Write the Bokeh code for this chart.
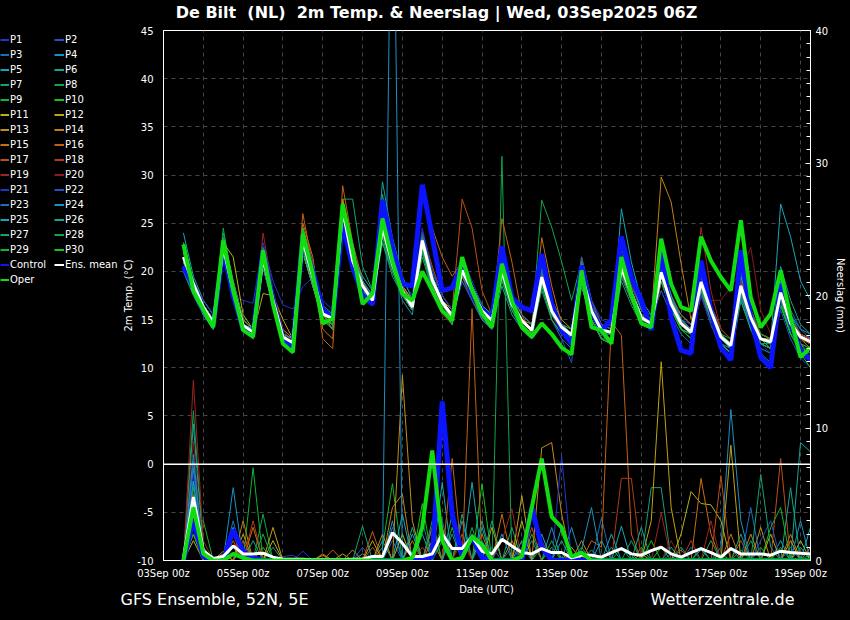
from bokeh.plotting import figure
from bokeh.layouts import column, row
from bokeh.models import (Range1d, LinearAxis, FixedTicker, SingleIntervalTicker,
                          Span, Label, Legend, LegendItem)
from bokeh.embed import file_html
from bokeh.resources import INLINE

# ---------------- data ----------------
# valid times: hours after 03Sep2025 00z (run 06Z, 6-hourly steps)
HOURS = [12 + 6 * i for i in range(64)]
DATE_TICK_DAYS = [0, 2, 4, 6, 8, 10, 12, 14, 16]
DATE_TICK_LABELS = ["03Sep 00z", "05Sep 00z", "07Sep 00z", "09Sep 00z", "11Sep 00z",
                    "13Sep 00z", "15Sep 00z", "17Sep 00z", "19Sep 00z"]
TEMP_TICKS = [-10, -5, 0, 5, 10, 15, 20, 25, 30, 35, 40, 45]

MEAN_T = [21.5, 18.7, 16.3, 14.7, 22.5, 18.0, 14.4, 13.7, 21.4, 17.0, 13.2, 12.6,
          23.2, 19.4, 15.6, 15.1, 26.4, 21.1, 18.5, 17.0, 24.6, 20.8, 18.0, 16.3,
          23.2, 19.1, 16.8, 15.4, 20.1, 18.0, 15.9, 14.9, 20.1, 16.6, 14.9, 13.9,
          19.4, 15.9, 14.2, 13.4, 19.7, 15.9, 13.9, 13.7, 20.4, 17.7, 15.2, 14.6,
          19.9, 16.6, 14.6, 13.7, 18.9, 15.9, 13.2, 12.3, 18.5, 15.2, 13.0, 12.7,
          17.8, 14.6, 13.2, 12.7]
CONTROL_T = [20.5, 18.5, 16.0, 14.5, 22.3, 17.5, 14.0, 13.5, 22.2, 17.0, 13.0, 12.3,
             23.5, 20.0, 16.0, 15.2, 25.0, 20.5, 17.5, 16.6, 27.4, 22.5, 18.7, 18.5,
             29.0, 23.6, 18.0, 18.3, 20.8, 17.7, 16.0, 15.2, 22.6, 17.3, 16.3, 15.9,
             21.8, 16.6, 13.9, 12.5, 20.6, 15.9, 13.9, 15.0, 23.6, 19.4, 17.0, 13.9,
             22.2, 15.2, 11.8, 11.5, 21.1, 15.9, 12.1, 10.8, 22.2, 15.2, 11.1, 10.0,
             18.7, 14.6, 11.8, 10.8]
OPER_T = [22.8, 18.0, 16.0, 14.2, 23.2, 18.0, 13.9, 13.2, 22.2, 16.6, 12.5, 11.6,
          23.9, 19.8, 14.6, 15.1, 27.0, 22.2, 16.6, 17.7, 25.5, 21.1, 17.7, 17.0,
          20.0, 18.0, 15.9, 14.9, 21.5, 18.0, 15.6, 14.2, 20.8, 17.0, 14.2, 13.2,
          14.6, 13.5, 12.1, 11.4, 20.1, 14.2, 13.9, 12.5, 21.5, 17.7, 14.6, 14.2,
          23.4, 18.7, 16.3, 15.9, 23.6, 21.1, 19.4, 18.0, 25.3, 17.3, 14.2, 15.6,
          20.1, 15.2, 11.1, 12.1]

MEAN_P = [0.15, 4.8, 0.75, 0.15, 0.3, 1.1, 0.5, 0.5, 0.55, 0.25, 0.1, 0.1, 0.1, 0.05,
          0.05, 0.05, 0.05, 0.1, 0.1, 0.3, 0.3, 2.1, 1.3, 0.3, 0.3, 0.5, 2.0, 0.9, 0.9,
          1.8, 0.7, 0.5, 1.6, 1.1, 0.6, 0.5, 0.9, 0.6, 0.6, 0.2, 0.4, 0.4, 0.25, 0.6,
          0.9, 0.5, 0.4, 0.75, 1.0, 0.5, 0.25, 0.6, 0.9, 0.6, 0.25, 0.9, 0.5, 0.5, 0.5,
          0.4, 0.7, 0.6, 0.55, 0.5]
CONTROL_P = [0, 3.0, 0.3, 0, 0, 2.3, 0.7, 0.2, 0, 0, 0, 0, 0, 0, 0, 0, 0, 0, 0, 0,
             0, 0, 0, 0, 0, 0.3, 12.0, 3.5, 0.4, 1.8, 0.2, 0, 0, 0, 0, 4.0, 1.0, 0, 0, 0,
             0, 0, 0, 0, 0, 0, 0, 0, 0, 0, 0, 0, 0, 0, 0, 0, 0, 0, 0, 0, 0, 0, 0, 0]
OPER_P = [0, 4.0, 0.5, 0, 0, 0.5, 0.2, 0, 0, 0, 0, 0, 0, 0, 0, 0, 0, 0, 0, 0,
          0, 0, 0, 0.2, 2.5, 8.3, 1.5, 0, 0.2, 1.8, 1.2, 0, 0, 0, 0.3, 4.0, 7.7, 3.3, 2.5, 0.3,
          0.6, 0, 0, 0, 0, 0, 0, 0, 0, 0, 0, 0, 0, 0, 0, 0, 0, 0, 0, 0, 0, 0, 0, 0]

T_P1 = [20.5,18.0,16.0,14.5, 22.0,17.5,17.0,16.7, 23.0,19.0,16.5,16.1, 18.4,19.4,17.0,16.0, 25.0,21.0,18.5,17.0, 25.5,21.5,19.0,17.5, 24.0,20.0,17.5,16.0, 21.0,18.5,16.0,15.0, 19.0,16.0,14.0,13.0, 18.5,15.5,14.0,13.5, 21.0,17.0,15.0,14.5, 22.0,18.5,16.0,15.0, 21.0,17.5,15.0,14.0, 20.0,16.0,13.0,12.0, 17.5,14.5,12.5,12.0, 16.5,14.0,12.5,11.5]
T_P2 = [21.0,18.5,16.5,15.0, 23.0,18.5,14.5,14.0, 21.5,17.0,13.0,12.5, 23.5,19.5,15.5,15.0, 27.0,21.5,18.0,16.5, 24.0,20.0,17.5,16.0, 22.0,18.5,16.5,15.5, 19.5,17.5,15.5,14.5, 21.0,17.0,15.0,14.0, 20.0,16.5,14.5,13.0, 18.5,15.0,13.0,12.5, 19.5,17.0,14.5,14.0, 21.0,17.5,15.0,14.5, 18.0,15.0,12.5,11.5, 19.5,16.0,13.5,13.0, 18.5,15.0,13.5,13.0]
T_P3 = [20.0,18.5,16.0,14.5, 22.5,18.0,14.0,13.5, 21.0,16.5,13.0,12.0, 22.5,19.0,15.0,14.5, 25.5,20.5,18.0,17.5, 25.5,21.0,18.5,17.0, 23.5,19.5,17.0,16.0, 20.5,18.5,16.5,15.5, 22.0,17.5,15.5,14.5, 18.5,15.0,13.0,12.0, 20.5,16.5,14.5,14.0, 21.5,18.5,16.0,15.5, 19.0,16.0,14.0,13.0, 18.0,15.5,13.0,12.5, 19.0,15.5,13.0,12.0, 16.5,13.5,12.0,11.0]
T_P4 = [21.5,19.0,16.5,15.0, 23.0,18.5,14.5,13.5, 21.5,17.0,13.5,12.5, 24.5,20.0,16.0,15.5, 26.5,21.0,19.0,17.5, 24.0,20.5,17.0,15.5, 23.0,19.0,16.5,15.0, 19.0,17.0,15.0,14.0, 20.0,16.5,14.5,13.5, 20.0,16.0,14.0,13.0, 19.0,15.5,14.0,14.5, 22.5,19.5,16.0,15.0, 20.5,17.0,15.5,14.5, 17.5,14.5,12.0,11.0, 17.0,14.0,12.5,12.0, 18.5,15.5,14.0,13.5]
T_P5 = [24.0,19.5,17.0,15.5, 22.0,17.5,14.0,13.5, 20.5,16.5,13.0,12.5, 22.0,18.5,15.0,14.0, 26.5,22.0,19.5,18.0, 23.0,20.0,17.5,16.0, 24.0,20.0,17.5,16.0, 21.0,18.0,15.5,14.5, 19.5,16.0,14.5,13.5, 20.5,16.5,14.0,13.0, 19.5,16.0,13.5,12.5, 20.0,17.0,15.0,14.5, 19.0,16.0,14.0,13.5, 19.5,16.0,13.5,12.5, 18.0,15.0,13.0,12.5, 19.0,15.5,13.5,13.0]
T_P6 = [22.5,19.0,16.5,15.0, 21.5,17.5,14.5,14.0, 22.0,17.5,13.5,13.0, 23.0,19.0,15.5,15.0, 27.5,21.5,18.0,16.5, 28.0,22.0,18.5,16.5, 22.5,18.5,16.0,15.0, 20.0,17.5,15.5,14.0, 18.5,15.5,14.0,13.5, 19.5,16.0,14.5,14.0, 20.5,16.5,14.5,13.5, 21.0,18.0,15.5,15.0, 19.5,16.5,14.5,13.5, 18.0,15.5,12.5,12.0, 17.5,14.5,12.5,12.5, 17.0,14.0,13.0,12.5]
T_P7 = [21.0,18.0,16.0,14.5, 24.0,19.0,15.0,14.0, 22.5,17.5,13.5,12.5, 24.5,20.5,16.0,15.0, 27.5,27.5,20.5,18.0, 26.0,21.5,18.5,17.0, 22.0,18.5,16.0,14.5, 20.5,18.0,16.0,15.0, 21.5,17.0,15.0,14.0, 18.0,15.0,13.5,13.0, 19.5,15.5,13.5,13.5, 19.5,17.0,14.5,14.0, 21.5,17.5,15.0,14.0, 18.5,15.5,13.0,12.0, 19.5,16.0,13.5,13.0, 17.5,14.5,13.0,12.5]
T_P8 = [22.0,18.5,16.0,14.0, 24.5,18.5,14.0,13.0, 21.0,16.5,13.0,12.0, 23.0,19.0,15.5,15.0, 26.0,21.0,18.5,17.0, 24.0,20.5,18.0,16.5, 23.5,19.5,17.0,15.5, 19.5,17.5,15.5,14.5, 20.5,17.5,15.0,14.0, 27.4,24.6,21.0,17.0, 21.0,16.5,14.0,13.5, 20.0,17.0,15.0,14.5, 20.5,17.0,15.0,14.0, 19.0,16.0,13.5,12.5, 18.0,15.0,13.0,12.5, 18.5,15.0,13.5,13.0]
T_P9 = [20.0,18.0,15.5,14.0, 22.0,17.5,14.0,13.5, 21.5,17.0,13.0,12.0, 22.5,19.0,15.5,15.0, 26.0,21.5,18.5,17.0, 23.5,20.0,17.5,16.0, 23.0,19.0,16.5,15.0, 20.0,18.0,16.0,15.0, 20.5,17.0,15.0,14.0, 19.0,16.0,14.5,13.5, 18.5,15.0,13.0,13.0, 20.0,17.5,15.5,14.5, 21.0,17.0,14.5,13.5, 19.5,16.5,14.0,13.0, 17.0,14.0,12.0,11.5, 17.5,14.5,13.0,12.5]
T_P10 = [21.5,18.5,16.5,15.0, 23.5,18.5,14.5,13.5, 22.0,17.0,13.0,12.5, 23.5,19.5,16.0,15.5, 27.0,21.0,18.0,16.5, 25.0,21.0,18.0,16.5, 21.5,18.0,16.0,14.5, 21.0,18.5,16.5,15.5, 19.5,16.5,14.5,13.5, 20.5,16.5,14.5,13.5, 21.0,16.5,14.5,14.0, 19.5,17.0,14.5,14.0, 19.0,16.0,14.0,13.0, 18.5,15.5,13.0,12.0, 19.0,15.5,13.0,12.5, 16.5,13.5,12.5,11.0]
T_P11 = [21.0,19.0,16.5,15.0, 23.0,21.5,15.5,14.0, 20.5,16.5,13.0,12.5, 22.0,18.5,15.0,14.5, 25.5,20.5,18.0,17.0, 24.5,21.0,18.5,17.0, 22.5,19.0,17.0,16.0, 20.0,18.5,16.5,15.5, 19.5,16.5,15.0,14.0, 19.0,16.0,14.0,13.5, 20.0,16.5,14.0,13.5, 20.5,17.5,15.0,14.5, 19.5,16.5,14.5,14.0, 18.0,15.0,13.0,12.0, 18.0,15.0,13.0,13.0, 17.5,15.0,13.5,13.0]
T_P12 = [21.5,18.5,16.0,14.5, 22.5,18.0,14.5,13.5, 17.7,17.5,15.0,13.0, 22.0,18.5,15.0,14.5, 25.0,20.5,18.0,16.5, 24.5,20.5,17.5,16.0, 23.0,19.0,16.5,15.0, 19.5,17.5,15.5,14.5, 20.0,16.5,14.5,13.5, 20.5,17.0,15.0,14.0, 20.0,16.0,14.0,13.5, 21.0,18.0,15.5,15.0, 20.5,17.0,15.0,14.0, 19.0,16.0,13.5,12.5, 17.5,14.5,12.5,12.0, 18.0,15.0,13.5,13.0]
T_P13 = [22.0,19.0,16.5,15.0, 22.5,18.5,15.0,14.0, 21.5,17.5,14.0,13.0, 23.0,19.5,16.0,15.5, 27.5,22.0,19.0,17.0, 24.0,20.5,18.5,17.0, 22.5,19.0,17.0,16.0, 20.0,18.5,16.0,15.0, 20.5,17.0,15.0,14.5, 19.5,16.0,14.0,13.5, 19.5,16.0,14.0,13.5, 20.0,17.5,15.0,14.5, 20.0,16.5,14.5,13.5, 18.5,16.0,13.5,12.5, 18.5,15.5,13.0,12.5, 17.0,14.5,13.0,12.5]
T_P14 = [22.5,19.0,16.5,15.0, 22.0,17.5,14.0,13.0, 21.0,16.5,13.0,12.5, 24.0,19.5,15.5,14.0, 26.0,20.5,18.0,16.5, 24.0,20.0,17.5,16.0, 23.5,19.5,17.0,15.5, 20.5,18.5,16.5,15.5, 20.0,16.5,14.5,13.5, 19.0,16.0,14.0,13.0, 20.0,16.0,14.0,13.5, 21.0,18.0,15.5,15.0, 29.8,27.2,20.8,15.0, 18.5,15.5,13.0,12.0, 18.5,15.5,13.0,12.5, 17.5,14.5,13.0,12.0]
T_P15 = [22.0,18.5,16.0,14.5, 22.5,18.5,14.5,13.5, 22.0,17.5,13.5,12.5, 25.0,21.5,14.0,13.0, 27.0,21.5,18.5,17.0, 24.5,20.5,17.5,16.0, 23.0,19.5,17.0,15.5, 20.0,18.0,16.0,15.0, 19.5,16.5,15.0,14.0, 23.5,18.5,14.5,13.5, 20.5,16.0,13.5,13.0, 20.5,17.5,15.5,14.5, 20.0,16.5,14.5,13.5, 19.5,16.0,13.5,12.5, 18.0,15.0,13.0,12.5, 18.0,15.0,13.5,13.0]
T_P16 = [23.0,19.0,16.5,15.0, 23.5,19.0,15.0,14.0, 22.0,17.5,13.5,13.0, 26.0,20.5,13.0,12.0, 28.9,23.0,19.0,17.0, 25.0,21.0,18.0,16.5, 28.0,24.5,21.5,19.5, 21.0,18.5,16.0,15.0, 25.5,21.0,15.5,13.5, 19.5,16.0,14.0,13.0, 20.0,16.0,13.5,13.0, 19.5,17.0,14.5,14.0, 20.5,17.5,15.5,14.5, 18.0,15.5,13.0,12.0, 19.0,16.0,13.5,13.0, 18.0,15.0,13.5,13.0]
T_P17 = [21.0,18.0,16.0,14.5, 22.0,18.0,14.5,13.5, 20.5,16.5,13.0,12.0, 24.5,21.0,16.0,15.0, 26.5,21.5,18.5,17.0, 24.0,20.5,18.0,16.5, 24.0,20.5,17.5,16.0, 27.5,24.5,18.0,15.5, 20.5,17.0,15.0,14.0, 20.0,16.5,14.5,13.5, 18.5,15.0,13.0,12.5, 20.0,17.0,14.5,14.0, 19.0,16.0,14.0,13.0, 17.5,15.0,12.5,11.5, 18.5,15.5,13.0,12.5, 18.0,14.5,13.0,12.5]
T_P18 = [21.5,18.5,16.5,15.0, 22.5,18.0,14.5,14.0, 21.5,17.0,13.5,12.5, 23.5,20.0,15.5,14.5, 26.0,21.0,18.0,16.5, 26.5,22.0,18.5,16.5, 22.5,18.5,16.0,15.0, 19.5,17.0,15.0,14.0, 21.0,17.5,15.5,14.5, 19.5,16.5,14.5,13.5, 21.5,17.0,14.5,14.0, 20.0,17.0,14.5,14.0, 19.0,16.0,14.0,13.0, 20.0,16.5,14.0,13.0, 19.0,16.0,13.5,13.0, 17.0,14.0,12.5,12.0]
T_P19 = [22.0,18.5,16.0,14.5, 23.0,18.5,14.0,13.0, 24.0,18.0,14.0,12.5, 23.0,19.0,15.0,14.5, 25.5,20.5,18.0,16.5, 24.5,20.5,17.5,16.0, 22.0,18.0,15.5,14.5, 20.5,18.0,16.0,15.0, 19.5,16.0,14.5,13.5, 20.0,16.0,14.0,13.0, 20.0,16.5,14.5,14.0, 21.0,18.5,16.0,15.0, 20.0,16.5,14.5,13.5, 24.6,18.0,14.0,13.0, 19.0,16.0,13.5,13.0, 18.0,15.0,13.5,13.0]
T_P20 = [21.5,18.5,16.0,14.5, 22.0,17.5,14.5,13.5, 22.0,17.0,13.5,12.5, 22.5,19.0,15.5,15.0, 26.0,21.0,18.5,17.0, 25.0,21.0,18.0,16.5, 23.5,19.0,16.5,15.0, 20.0,17.5,15.5,14.5, 20.5,17.0,15.0,14.0, 19.0,15.5,13.5,13.0, 19.0,15.5,13.5,13.0, 20.5,17.5,15.0,14.5, 19.5,16.5,14.5,14.0, 19.5,17.0,17.0,18.4, 20.0,22.5,16.0,13.5, 17.5,14.5,13.0,12.5]
T_P21 = [20.0,18.0,16.0,14.5, 22.5,18.5,14.5,14.0, 21.0,17.0,13.5,12.5, 23.0,19.5,16.0,15.5, 25.0,20.5,18.5,17.5, 26.5,21.5,19.0,17.5, 24.5,20.0,17.5,16.0, 21.5,19.0,16.5,15.0, 21.0,17.0,15.0,14.0, 18.5,15.0,13.5,12.5, 19.0,15.5,13.5,13.0, 21.0,18.0,15.5,15.0, 20.0,16.5,14.0,13.0, 17.5,14.5,12.0,11.0, 18.5,15.0,12.5,11.5, 17.0,14.0,12.0,10.5]
T_P22 = [21.0,19.0,17.0,15.5, 22.0,17.5,14.0,13.5, 20.5,16.5,13.0,12.0, 22.5,19.0,15.0,14.5, 25.0,20.5,18.0,17.0, 24.0,20.0,17.5,16.0, 24.0,19.5,17.0,15.5, 19.0,17.0,15.0,14.0, 20.0,16.5,14.0,13.0, 18.5,15.0,13.0,10.5, 20.5,16.5,14.0,13.5, 19.5,17.0,14.5,14.0, 21.0,17.5,15.0,14.0, 18.0,15.0,12.5,11.5, 17.5,14.5,12.0,11.5, 16.0,13.0,11.0,10.0]
T_P23 = [21.5,18.5,16.0,14.5, 22.0,18.0,14.5,13.5, 21.5,17.0,13.0,12.5, 23.5,19.5,15.5,15.0, 26.5,21.5,19.0,17.5, 25.0,21.0,18.0,16.5, 22.0,18.0,16.0,14.5, 20.5,18.0,16.0,15.0, 19.5,16.0,14.0,13.0, 20.0,16.5,14.5,13.5, 21.5,17.0,14.5,14.0, 20.5,18.0,15.5,15.0, 18.0,15.5,13.5,12.5, 19.0,16.0,13.5,12.5, 20.0,16.0,13.0,12.5, 19.5,16.0,14.0,13.0]
T_P24 = [20.5,18.0,15.5,14.0, 23.0,18.5,14.5,13.5, 21.5,17.5,13.5,12.5, 24.0,20.0,16.0,15.5, 25.5,21.0,18.5,17.0, 25.0,21.0,18.0,16.0, 23.5,19.5,17.0,15.5, 20.0,17.5,15.0,14.0, 21.5,17.5,15.5,14.5, 19.0,15.5,14.0,13.0, 19.0,15.0,13.0,12.5, 22.5,19.0,16.0,15.0, 20.5,17.5,15.0,14.0, 20.5,16.5,13.5,12.5, 17.5,14.5,12.5,12.0, 18.0,14.5,12.0,11.0]
T_P25 = [20.0,17.5,15.5,14.0, 23.0,18.0,14.5,14.0, 22.0,17.5,13.5,13.0, 24.5,20.5,16.5,15.5, 26.0,21.0,18.0,16.5, 24.5,20.5,18.0,16.5, 23.0,19.0,16.5,15.0, 21.0,18.5,16.0,15.0, 19.5,16.5,14.5,13.5, 19.5,16.0,14.0,13.0, 20.0,16.0,13.5,13.5, 26.5,21.0,17.0,15.5, 20.0,16.5,14.0,13.0, 18.5,15.5,13.0,12.0, 18.5,15.5,13.0,12.5, 27.0,23.6,19.0,17.0]
T_P26 = [22.5,19.0,16.5,15.0, 22.5,18.0,14.0,13.5, 21.5,17.0,13.0,12.5, 22.0,18.5,15.0,14.5, 27.0,22.0,19.0,17.5, 29.3,23.5,19.5,17.0, 22.0,18.5,16.0,14.5, 20.5,18.0,15.5,14.5, 20.5,17.0,15.0,14.0, 19.5,16.5,14.5,13.5, 18.5,15.0,13.0,12.5, 21.5,18.0,15.5,15.0, 19.0,16.0,14.0,13.5, 18.0,15.0,12.5,11.5, 19.5,16.0,13.0,12.5, 20.5,17.0,14.5,13.5]
T_P27 = [21.0,18.5,16.0,14.5, 22.0,18.0,14.5,14.0, 20.5,16.5,13.0,12.5, 23.5,19.5,15.5,15.0, 25.0,20.5,18.5,17.0, 23.0,19.5,17.5,16.5, 23.5,19.5,17.0,15.5, 19.5,17.5,15.5,14.5, 20.5,17.0,15.0,14.0, 19.5,16.0,14.0,13.5, 19.0,15.0,13.0,12.5, 19.0,16.5,14.5,14.0, 21.0,17.0,14.5,13.5, 18.5,15.5,13.0,12.0, 17.0,14.0,11.5,10.5, 17.5,14.5,12.0,11.5]
T_P28 = [22.0,19.0,16.5,15.0, 23.5,19.0,15.0,14.0, 21.0,17.0,13.5,12.5, 22.5,19.0,15.0,14.0, 26.5,21.0,18.0,16.5, 24.0,20.0,17.5,16.0, 22.5,18.5,16.0,15.0, 21.0,18.5,16.5,15.5, 20.0,16.5,14.5,13.5, 20.5,16.5,14.5,14.0, 20.5,16.5,14.0,13.5, 20.0,17.5,15.0,14.5, 19.5,16.5,14.0,13.0, 19.0,16.0,13.5,12.5, 18.0,15.0,12.5,12.0, 16.5,13.5,12.0,11.0]
T_P29 = [23.0,19.0,16.0,14.5, 22.5,18.5,14.5,13.5, 21.5,17.0,13.0,12.0, 23.0,19.5,15.5,15.0, 26.0,20.5,18.0,16.5, 25.5,21.0,18.0,16.0, 23.0,19.0,16.5,15.5, 20.0,17.5,15.5,14.5, 19.0,16.0,14.0,13.0, 19.0,15.5,14.0,13.0, 19.5,15.5,13.0,12.5, 20.5,18.0,15.5,15.0, 19.0,16.0,14.0,13.0, 19.5,16.0,13.5,13.0, 18.5,15.5,13.5,13.0, 17.0,14.0,12.5,12.0]
T_P30 = [22.0,18.5,16.0,14.5, 22.0,17.5,14.0,13.0, 21.0,16.5,12.5,11.5, 24.5,20.0,15.5,14.5, 26.0,21.0,18.5,17.0, 24.5,20.5,18.0,16.5, 22.5,18.5,16.0,14.5, 20.0,18.0,16.0,15.0, 19.5,16.5,14.5,13.5, 18.5,15.0,13.5,12.5, 20.5,16.5,14.0,13.5, 20.0,17.0,14.5,14.0, 20.0,16.5,14.0,13.5, 18.5,15.0,12.5,11.5, 18.5,15.5,13.0,12.0, 16.5,13.5,11.5,10.0]

# precipitation per 6h step (mm); steps not listed had 0 mm
R_P1 = {1: 6.0, 10: 0.3, 11: 0.4, 29: 1.5, 34: 1.0}
R_P2 = {1: 6.0, 18: 1.0}
R_P3 = {1: 7.0, 5: 2.5, 21: 1.5, 26: 3.0, 31: 1.0, 42: 3.2}
R_P4 = {1: 7.0, 5: 5.5, 21: 3.0, 25: 2.5, 28: 3.0, 35: 1.5, 39: 2.5, 60: 1.5}
R_P5 = {1: 10.3, 2: 0.8, 5: 1.0, 18: 0.5, 20: 1.5, 23: 2.0, 26: 5.9, 43: 2.0, 52: 1.0}
R_P6 = {1: 5.0, 6: 1.0, 24: 2.0, 27: 3.5, 30: 3.0, 38: 1.5, 41: 0.8, 49: 1.0, 55: 1.0, 62: 8.9, 63: 8.2}
R_P7 = {1: 4.0, 9: 1.0, 28: 3.5, 33: 2.5, 45: 1.5, 47: 5.5, 48: 5.5, 62: 1.0}
R_P8 = {1: 11.3, 2: 1.0, 8: 3.5, 32: 30.5, 53: 1.5, 57: 1.5}
R_P9 = {1: 3.0, 2: 3.0, 7: 7.0, 20: 1.0, 21: 5.8, 27: 2.5, 35: 2.0, 46: 1.0, 58: 1.0}
R_P10 = {1: 2.5, 8: 1.0, 24: 4.3, 30: 5.8, 37: 1.0, 47: 1.5, 60: 1.0}
R_P11 = {1: 1.5, 4: 0.5, 9: 1.5, 16: 0.5, 22: 2.0, 26: 2.5, 34: 3.0, 46: 0.5, 50: 2.0, 51: 5.2,
         52: 4.3, 53: 4.2, 54: 3.0, 59: 2.0, 62: 1.5}
R_P12 = {1: 2.0, 9: 2.5, 19: 1.5, 25: 1.5, 31: 2.5, 34: 4.9, 39: 1.0, 47: 3.0, 48: 15.0, 49: 4.0,
         55: 8.7, 61: 1.5}
R_P13 = {1: 3.0, 2: 0.5, 6: 2.0, 14: 0.4, 20: 2.0, 22: 14.0, 23: 3.0, 29: 2.0, 36: 8.5, 37: 8.9,
         38: 3.5, 58: 2.5, 63: 1.0}
R_P14 = {1: 2.5, 4: 0.7, 6: 3.0, 17: 0.8, 21: 4.0, 22: 5.0, 33: 1.5, 40: 1.5, 57: 2.0}
R_P15 = {1: 4.0, 5: 2.0, 7: 2.5, 14: 0.5, 23: 1.5, 30: 2.0, 32: 3.5, 52: 6.2, 53: 2.0, 55: 2.0, 61: 2.0}
R_P16 = {1: 3.5, 6: 1.5, 15: 0.8, 19: 2.2, 25: 2.5, 27: 7.7, 29: 19.0, 41: 1.5, 42: 1.0, 43: 18.0,
         44: 17.0, 45: 2.0}
R_P17 = {1: 2.0, 5: 1.5, 19: 1.0, 28: 2.0, 35: 2.5, 50: 0.8, 54: 6.4, 56: 1.5, 60: 7.7}
R_P18 = {1: 5.0, 7: 3.0, 24: 1.0, 36: 1.5, 44: 6.2, 45: 6.2, 51: 1.5}
R_P19 = {1: 13.6, 2: 1.5, 32: 1.5, 33: 3.9, 48: 3.6, 53: 3.0}
R_P20 = {1: 9.0, 28: 1.5, 42: 0.5, 49: 1.5}
R_P21 = {1: 6.5, 12: 0.7, 26: 2.0, 38: 7.9}
R_P22 = {1: 6.0, 30: 1.5, 49: 0.5, 58: 1.5, 59: 3.0}
R_P23 = {1: 7.5, 5: 3.0, 21: 2.5, 24: 3.0, 33: 1.0, 51: 1.0, 57: 4.0, 61: 1.0}
R_P24 = {1: 8.0, 5: 2.5, 21: 60.0, 27: 2.0, 32: 2.0, 37: 2.5, 40: 0.8, 41: 4.0, 54: 1.0, 55: 11.4,
         56: 3.0, 62: 3.0}
R_P25 = {1: 6.0, 22: 3.5, 29: 5.9, 36: 2.0, 38: 2.5, 42: 1.5, 44: 2.6, 63: 2.5}
R_P26 = {1: 4.5, 23: 2.5, 30: 2.5, 34: 1.5, 43: 1.0, 46: 2.5, 50: 1.0, 56: 2.0, 61: 5.5}
R_P27 = {1: 3.5, 7: 1.5, 18: 2.6, 31: 3.0, 39: 0.5, 52: 0.8, 58: 6.5, 59: 1.0}
R_P28 = {1: 5.5, 8: 2.0, 25: 3.0, 29: 2.5, 36: 1.0, 44: 1.0, 56: 0.8, 63: 0.5}
R_P29 = {1: 2.0, 26: 1.5, 37: 1.5, 40: 1.0, 48: 1.0, 59: 2.5, 60: 4.0}
R_P30 = {1: 3.0, 54: 0.5}

MEMBER_NAMES = ["P%d" % k for k in range(1, 31)]
MEMBER_T = [T_P1, T_P2, T_P3, T_P4, T_P5, T_P6, T_P7, T_P8, T_P9, T_P10,
            T_P11, T_P12, T_P13, T_P14, T_P15, T_P16, T_P17, T_P18, T_P19, T_P20,
            T_P21, T_P22, T_P23, T_P24, T_P25, T_P26, T_P27, T_P28, T_P29, T_P30]
MEMBER_R = [R_P1, R_P2, R_P3, R_P4, R_P5, R_P6, R_P7, R_P8, R_P9, R_P10,
            R_P11, R_P12, R_P13, R_P14, R_P15, R_P16, R_P17, R_P18, R_P19, R_P20,
            R_P21, R_P22, R_P23, R_P24, R_P25, R_P26, R_P27, R_P28, R_P29, R_P30]

BASE_COLORS = ["#2233cc", "#1f52c2", "#1c6cb8", "#1a90c2", "#19a6b4",
               "#14a592", "#12a372", "#10a548", "#12b42a", "#14c414",
               "#b5b312", "#c0a212", "#c49014", "#c48014", "#c47014",
               "#c46014", "#bd5012", "#b03a18", "#a02222", "#8c1a1a"]
MEMBER_COLORS = BASE_COLORS + BASE_COLORS[:10]
CONTROL_COLOR = "#0a14ff"
OPER_COLOR = "#10dd10"
MEAN_COLOR = "#ffffff"

TITLE = "De Bilt\u00a0 (NL)\u00a0 2m Temp. & Neerslag | Wed, 03Sep2025 06Z"
FOOT_LEFT = "GFS Ensemble, 52N, 5E"
FOOT_RIGHT = "Wetterzentrale.de"
FONT = "DejaVu Sans"
BLACK = {"background-color": "black"}

# page geometry (canvas 850 x 620)
W, H = 850, 620
TITLE_H = 22
LEG_W = 120
MAIN_W = W - LEG_W
MAIN_TOP, FRAME_H, MAIN_BOTTOM = 8, 530, 22
MAIN_H = MAIN_TOP + FRAME_H + MAIN_BOTTOM
FOOT_H = H - TITLE_H - MAIN_H


def blank(width, height, top=0, bottom=0):
    f = figure(width=width, height=height, x_range=Range1d(0, 1), y_range=Range1d(0, 1),
               output_backend="svg", toolbar_location=None,
               x_axis_location=None, y_axis_location=None,
               min_border_left=0, min_border_right=0,
               min_border_top=top, min_border_bottom=bottom,
               background_fill_color="black", border_fill_color="black",
               outline_line_color=None, styles=BLACK)
    for g in f.grid:
        g.visible = False
    return f


# ---------------- title strip ----------------
title_fig = blank(W, TITLE_H)
title_fig.add_layout(Label(x=436, y=TITLE_H - 12, x_units="screen", y_units="screen",
                           text=TITLE, text_color="white", text_font=FONT,
                           text_font_size="16px", text_font_style="bold",
                           text_align="center", text_baseline="middle"))

# ---------------- main chart ----------------
x = [h / 24.0 for h in HOURS]

p = figure(width=MAIN_W, height=MAIN_H,
           x_range=Range1d(0, 16.25), y_range=Range1d(-10, 45),
           output_backend="svg", toolbar_location=None,
           min_border_left=163 - LEG_W, min_border_right=40,
           min_border_top=MAIN_TOP, min_border_bottom=MAIN_BOTTOM,
           background_fill_color="black", border_fill_color="black",
           outline_line_color="white", outline_line_width=1, styles=BLACK)
p.extra_y_ranges = {"rain": Range1d(0, 40)}

p.xaxis.ticker = FixedTicker(ticks=DATE_TICK_DAYS)
p.xaxis.major_label_overrides = {float(d): lab for d, lab in zip(DATE_TICK_DAYS, DATE_TICK_LABELS)}
p.xaxis.major_tick_out = 0
p.xaxis.major_tick_in = 0
p.xaxis.minor_tick_out = 0
p.xaxis.minor_tick_in = 0
p.xaxis.major_label_standoff = 7

p.yaxis.ticker = FixedTicker(ticks=TEMP_TICKS)
p.yaxis.major_label_overrides = {float(t): "%d" % t for t in TEMP_TICKS}
p.yaxis.axis_label = "2m Temp. (\u00b0C)"
p.yaxis.major_tick_out = 0
p.yaxis.major_tick_in = 0
p.yaxis.minor_tick_out = 0
p.yaxis.minor_tick_in = 0
p.yaxis.major_label_standoff = 10
p.yaxis.axis_label_standoff = 0

rax = LinearAxis(y_range_name="rain", ticker=SingleIntervalTicker(interval=10, num_minor_ticks=10),
                 axis_label="Neerslag (mm)")
rax.major_tick_in = 5
rax.major_tick_out = 0
rax.minor_tick_in = 4
rax.minor_tick_out = 0
rax.major_label_standoff = 5
rax.axis_label_standoff = 4
p.add_layout(rax, "right")

for ax in [p.xaxis[0], p.yaxis[0], rax]:
    ax.axis_line_color = "white"
    ax.major_tick_line_color = "white"
    ax.minor_tick_line_color = "white"
    ax.major_label_text_color = "white"
    ax.major_label_text_font = FONT
    ax.major_label_text_font_size = "10px"
    ax.axis_label_text_color = "white"
    ax.axis_label_text_font = FONT
    ax.axis_label_text_font_size = "10px"
    ax.axis_label_text_font_style = "normal"

p.xgrid.ticker = FixedTicker(ticks=list(range(17)))
for g in [p.xgrid[0], p.ygrid[0]]:
    g.grid_line_color = "#474747"
    g.grid_line_dash = "4 4"
    g.grid_line_width = 1

p.add_layout(Span(location=0, dimension="width", line_color="white", line_width=1.5))

for name, tvals, rvals, col in zip(MEMBER_NAMES, MEMBER_T, MEMBER_R, MEMBER_COLORS):
    rain = [rvals.get(i, 0.0) for i in range(len(HOURS))]
    p.line(x, tvals, line_color=col, line_width=1)
    p.line(x, rain, line_color=col, line_width=1, y_range_name="rain")

p.line(x, CONTROL_T, line_color=CONTROL_COLOR, line_width=5)
p.line(x, CONTROL_P, line_color=CONTROL_COLOR, line_width=5, y_range_name="rain")
p.line(x, MEAN_T, line_color=MEAN_COLOR, line_width=3)
p.line(x, MEAN_P, line_color=MEAN_COLOR, line_width=3, y_range_name="rain")
p.line(x, OPER_T, line_color=OPER_COLOR, line_width=4)
p.line(x, OPER_P, line_color=OPER_COLOR, line_width=4, y_range_name="rain")

# ---------------- legend strip (left) ----------------
# the legend strip's frame is given the same top/bottom borders as the chart
leg_fig = blank(LEG_W, MAIN_H, top=MAIN_TOP, bottom=MAIN_BOTTOM)

col1 = [(MEMBER_NAMES[k], MEMBER_COLORS[k], MEMBER_T[k]) for k in range(0, 30, 2)] + \
       [("Control", CONTROL_COLOR, CONTROL_T), ("Oper", OPER_COLOR, OPER_T)]
col2 = [(MEMBER_NAMES[k], MEMBER_COLORS[k], MEMBER_T[k]) for k in range(1, 30, 2)] + \
       [("Ens. mean", MEAN_COLOR, MEAN_T)]
ROW_H = 15
LEG_TOP = 31.5 - TITLE_H          # top of first legend row, in strip pixels
FRAME_BOTTOM = MAIN_H - MAIN_BOTTOM


def make_legend(items, x0, glyph_w, standoff):
    its = []
    for lab, c, series in items:
        # series lie outside this strip's 0..1 ranges, so only the legend swatch shows
        r = leg_fig.line(x, series, line_color=c, line_width=2)
        its.append(LegendItem(label=lab, renderers=[r]))
    y0 = FRAME_BOTTOM - LEG_TOP - ROW_H * len(items)
    lg = Legend(items=its, location=(x0, y0), orientation="vertical",
                glyph_width=glyph_w, glyph_height=ROW_H, label_height=ROW_H,
                label_standoff=standoff, spacing=0, padding=0, margin=0,
                background_fill_alpha=0, border_line_alpha=0,
                label_text_color="white", label_text_font=FONT,
                label_text_font_size="10px")
    leg_fig.add_layout(lg)


make_legend(col1, 0, 9, 1)
make_legend(col2, 54, 10, 1)

# ---------------- footer strip ----------------
foot_fig = blank(W, FOOT_H)
foot_fig.add_layout(Label(x=486, y=H - 589, x_units="screen", y_units="screen",
                          text="Date (UTC)", text_color="white", text_font=FONT,
                          text_font_size="10px", text_align="center", text_baseline="middle"))
foot_fig.add_layout(Label(x=120, y=H - 599, x_units="screen", y_units="screen",
                          text=FOOT_LEFT, text_color="white", text_font=FONT,
                          text_font_size="16px", text_align="left", text_baseline="middle"))
foot_fig.add_layout(Label(x=650, y=H - 599, x_units="screen", y_units="screen",
                          text=FOOT_RIGHT, text_color="white", text_font=FONT,
                          text_font_size="16px", text_align="left", text_baseline="middle"))

page = column(title_fig, row(leg_fig, p, styles=BLACK), foot_fig, styles=BLACK)

open("out.html", "w").write(file_html(page, INLINE))
